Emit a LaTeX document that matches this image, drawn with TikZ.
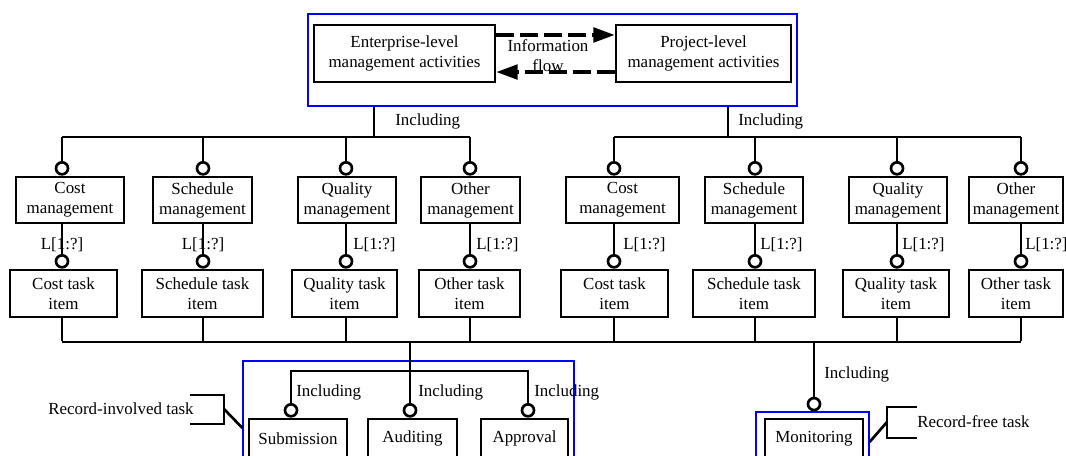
\documentclass[tikz,border=0pt]{standalone}
\usepackage{fontspec}
\setmainfont{Liberation Serif}
\usetikzlibrary{arrows.meta, calc, positioning}
\definecolor{tinta}{HTML}{000000}
\definecolor{marco}{RGB}{0,0,255}
\tikzset{
  % Cajas de actividades (ancho y alto en px de la figura)
  caja/.style 2 args = {draw=tinta, line width=2pt, align=center, inner sep=0pt,
                        minimum width=#1*0.75pt, minimum height=#2*0.75pt},
  % Marcos azules que agrupan actividades
  grupo/.style 2 args = {draw=marco, line width=0.9pt, inner sep=0pt,
                         minimum width=#1*0.75pt, minimum height=#2*0.75pt},
  % Conectores y corchetes
  linea/.style    = {line width=2pt, color=tinta},
  % Anillo donde el conector toca la caja
  anillo/.style   = {circle, draw=tinta, fill=white, line width=2pt,
                     inner sep=0pt, minimum size=9pt},
  % Flujo de informacion (discontinuo, punta grande)
  flujo/.style    = {line width=2.5pt, color=tinta, dash pattern=on 13pt off 5pt,
                     -{Triangle[length=16pt, width=11pt]}},
  % Rotulos sueltos sobre las lineas
  rotulo/.style   = {inner sep=0pt, anchor=west},
  every node/.style = {font=\fontsize{12.7}{15}\selectfont, text=tinta},
}

\begin{document}
\begin{tikzpicture}[x=0.75pt, y=-0.75pt]
  \useasboundingbox (0,0) rectangle (1066,456);
  \clip (0,0) rectangle (1066,456);

  % ============================================================
  % Nivel superior: empresa y proyecto
  % ============================================================
  \node[grupo={489}{92}] (marcoSup) at (552.5,60) {};
  \node[caja={181}{57}] (empresa)  at (404.5,53.5) {Enterprise-level\\management activities};
  \node[caja={175}{57}] (proyecto) at (703.5,53.5) {Project-level\\management activities};
  \draw[flujo] ([yshift=13.9pt]empresa.east) -- ([yshift=13.9pt]proyecto.west);
  \draw[flujo] ([yshift=-13.9pt]proyecto.west) -- ([yshift=-13.9pt]empresa.east);
  \node[align=center, inner sep=0pt] (info) at (548,55.5) {Information\\flow};

  \coordinate (barraL) at (374,137);
  \coordinate (barraR) at (728,137);
  \draw[linea] (marcoSup.south -| barraL) -- (barraL);
  \draw[linea] (marcoSup.south -| barraR) -- (barraR);
  \node[rotulo] (incL) at (395,121) {Including};
  \node[rotulo] (incR) at (738,121) {Including};

  % ============================================================
  % Gestiones y tareas (4 por nivel)
  % ============================================================
  \foreach \i/\lx/\mx/\mw/\tx/\tw/\nom in {
      1/62/70/108/63.5/107/Cost,     2/203/202.5/99/202.5/121/Schedule,
      3/346/347/98/344.5/105/Quality, 4/470/470.5/99/469.5/101/Other,
      5/614/622.5/113/614.5/107/Cost, 6/755/754/98/754/122/Schedule,
      7/897/898/98/896/106/Quality,   8/1021/1016/94/1016/94/Other} {
    \node[caja={\mw}{46}] (m\i) at (\mx,200)   {\nom\\management};
    \node[caja={\tw}{47}] (t\i) at (\tx,293.5) {\nom{} task\\item};
    \node[anillo, anchor=south] (a\i) at (m\i.north -| \lx,0) {};
    \node[anillo, anchor=south] (b\i) at (t\i.north -| \lx,0) {};
    \draw[linea] (a\i.north) -- (a\i.north |- barraL);
    \draw[linea] (m\i.south -| b\i) -- (b\i.north);
    \draw[linea] (t\i.south -| b\i) -- ($(b\i)+(0,80)$) coordinate (f\i);
  }
  \foreach \i/\lx/\anc in {1/62/center, 2/203/center, 3/353/west, 4/476/west,
                           5/623/west, 6/760/west, 7/902/west, 8/1025/west}
    \node[inner sep=0pt, anchor=\anc] (L\i) at (\lx,245) {L[1:?]};

  \draw[linea] (a1 |- barraL) -- (a4 |- barraL);
  \draw[linea] (a5 |- barraR) -- (a8 |- barraR);
  \coordinate (barraInf) at (410,342);
  \draw[linea] (b1 |- barraInf) -- (b8 |- barraInf);

  % ============================================================
  % Tareas con registro
  % ============================================================
  \node[grupo={331}{109}] (marcoReg) at (408.5,415.5) {};
  \node[caja={98}{39}] (envio)  at (298,438.5)   {Submission};
  \node[caja={89}{39}] (audit)  at (412.5,438.5) {Auditing};
  \node[caja={87}{39}] (aprob)  at (524.5,438.5) {Approval};
  \node[anillo, anchor=south] (rEnv) at (envio.north -| 291,0) {};
  \node[anillo, anchor=south] (rAud) at (audit.north -| barraInf) {};
  \node[anillo, anchor=south] (rApr) at (aprob.north -| 528,0) {};
  \coordinate (subBarra) at (410,371);
  \draw[linea] (barraInf) -- (rAud.north);
  \draw[linea] (rEnv.north) -- (rEnv |- subBarra) -- (rApr |- subBarra) -- (rApr.north);
  \node[rotulo] (incEnv) at (296,392) {Including};
  \node[rotulo] (incAud) at (418,392) {Including};
  \node[rotulo] (incApr) at (534,392) {Including};

  \node[rotulo] (conReg) at (48,409) {Record-involved task};
  \coordinate (cr1) at (190,395);
  \coordinate (cr2) at (224,424);
  \draw[linea] (cr1) -- (cr1 -| cr2) -- (cr2) -- (cr2 -| cr1);
  \draw[linea] (224,409) -- (marcoReg.west |- 0,428);

  % ============================================================
  % Tarea sin registro
  % ============================================================
  \node[grupo={113}{58}] (marcoMon) at (812.5,441) {};
  \node[caja={98}{39}] (monit) at (814,438.5) {Monitoring};
  \node[anillo, anchor=south] (rMon) at (marcoMon.north -| 814,0) {};
  \draw[linea] (rMon.north) -- (rMon |- barraInf);
  \node[rotulo] (incMon) at (824,374) {Including};

  \node[rotulo] (sinReg) at (917,422) {Record-free task};
  \coordinate (cs1) at (917,407);
  \coordinate (cs2) at (887,438);
  \draw[linea] (cs1) -- (cs1 -| cs2) -- (cs2) -- (cs2 -| cs1);
  \draw[linea] (887,422) -- (marcoMon.east |- 0,442);

\end{tikzpicture}
\end{document}
